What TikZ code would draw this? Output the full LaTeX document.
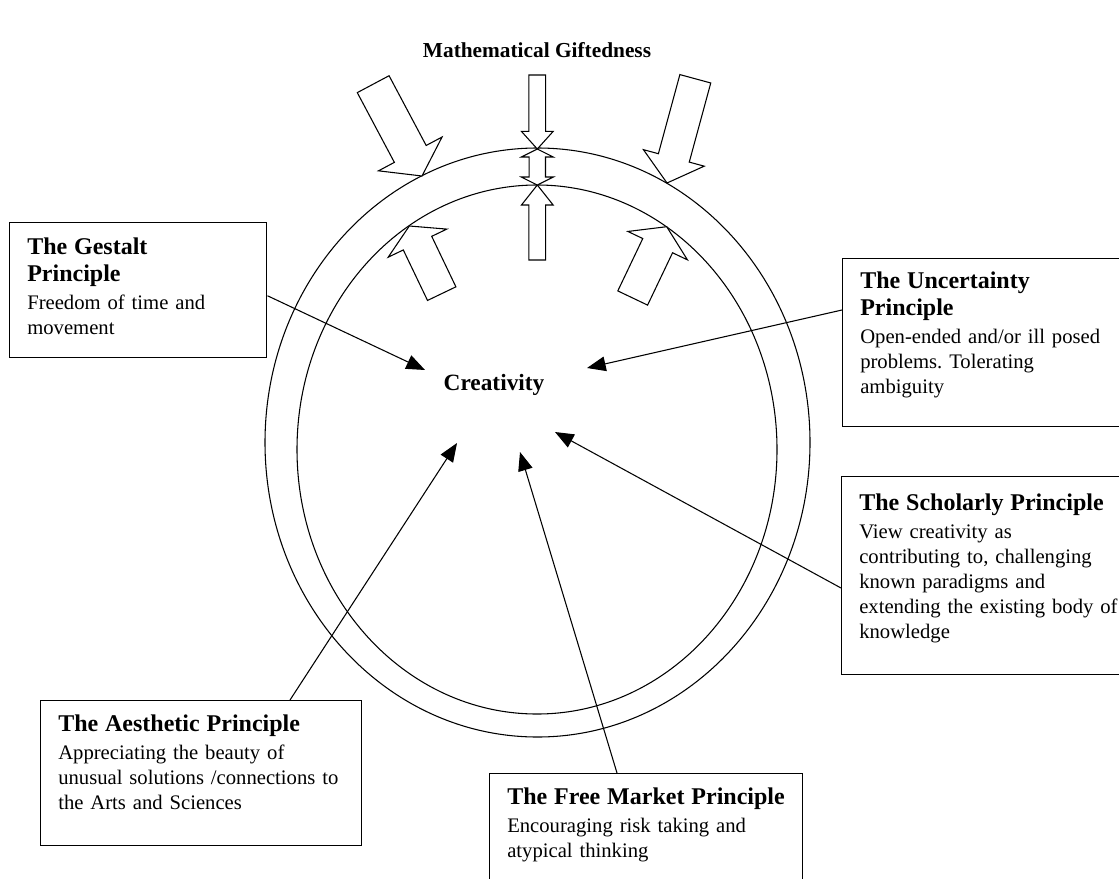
\documentclass[tikz,border=0pt]{standalone}
\usepackage{fontspec}
\setmainfont{Liberation Serif}
\usetikzlibrary{arrows.meta}
\frenchspacing

\newdimen\px \px=0.75pt
\newcommand\phead[1]{{\fontsize{18}{20}\selectfont\bfseries #1\par}\vskip2pt}

\tikzset{
  pbox/.style={draw, line width=1.1pt, anchor=north west, inner sep=0pt},
  ptext/.style={anchor=north west, inner sep=0pt, align=left, text width=310\px,
    font=\fontsize{15.5}{18.75}\selectfont},
  barr/.style={draw, fill=white, line width=0.8pt, line join=miter},
  link/.style={line width=0.8pt, -{Triangle[length=14pt,width=11pt]}}
}

\begin{document}
\begin{tikzpicture}[x=0.75pt, y=-0.75pt]
\useasboundingbox (0,0) rectangle (1119,878);

% rings
\draw[line width=0.8pt] (537.5,442.5) ellipse [x radius=272.5\px, y radius=294.5\px];
\draw[line width=0.8pt] (537,449.5) ellipse [x radius=240\px, y radius=264.5\px];

% block arrows: tip x/tip y/angle/length/shaft/head width/head length
\foreach \tx/\ty/\ang/\len/\sw/\hw/\hl in {
    422/176/-62/104/36/72/25, 667/183/-105.2/108/32/63/26,
    537.3/149/-90/74/16.7/31.7/17.6, 537.3/185/90/75/16.7/31.7/20,
    409.3/226/115.6/75/31.5/65/19, 666.7/226.7/64.5/79/33/66/21}
  \draw[barr, shift={(\tx,\ty)}, rotate=\ang] (0,0) -- (-\hl,\hw/2) -- (-\hl,\sw/2)
    -- (-\len,\sw/2) -- (-\len,-\sw/2) -- (-\hl,-\sw/2) -- (-\hl,-\hw/2) -- cycle;
% the short double arrow between the rings
\draw[barr] (537.3,149) -- (553.3,157) -- (545.5,157) -- (545.5,177) -- (553.3,177)
  -- (537.3,185) -- (521.3,177) -- (529.1,177) -- (529.1,157) -- (521.3,157) -- cycle;

\node[font=\fontsize{16}{19}\selectfont\bfseries] (title) at (537,50) {Mathematical Giftedness};
\node[font=\fontsize{17.5}{20}\selectfont\bfseries] (creat) at (494,385) {Creativity};

\coordinate (tipG) at (425,370);
\coordinate (tipU) at (587,368);
\coordinate (tipS) at (555,432);
\coordinate (tipA) at (457,443);
\coordinate (tipF) at (520,452);

% principle boxes
\node[pbox, minimum width=257\px, minimum height=135\px] (gestalt) at (9,222) {};
\node[ptext] (gestalt-t) at ([shift={(18,16)}]gestalt.north west)
  {\phead{The Gestalt\\Principle}Freedom of time and\\movement};

\node[pbox, minimum width=290\px, minimum height=168\px] (uncert) at (842,258) {};
\node[ptext] (uncert-t) at ([shift={(18,14)}]uncert.north west)
  {\phead{The Uncertainty\\Principle}Open-ended and/or ill posed\\problems. Tolerating\\ambiguity};

\node[pbox, minimum width=290\px, minimum height=198\px] (schol) at (841,476) {};
\node[ptext] (schol-t) at ([shift={(18,18)}]schol.north west)
  {\phead{The Scholarly Principle}View creativity as\\contributing to, challenging\\known paradigms and\\extending the existing body of\\knowledge};

\node[pbox, minimum width=321\px, minimum height=145\px] (aest) at (40,700) {};
\node[ptext] (aest-t) at ([shift={(18,15)}]aest.north west)
  {\phead{The Aesthetic Principle}Appreciating the beauty of\\unusual solutions /connections to\\the Arts and Sciences};

\node[pbox, minimum width=313\px, minimum height=130\px] (market) at (489,773) {};
\node[ptext] (market-t) at ([shift={(18,15)}]market.north west)
  {\phead{The Free Market Principle}Encouraging risk taking and\\atypical thinking};

% connectors
\draw[link] ([shift={(0,5.5)}]gestalt.east) -- (tipG);
\draw[link] ([shift={(0,52)}]uncert.north west) -- (tipU);
\draw[link] ([shift={(0,112)}]schol.north west) -- (tipS);
\draw[link] ([shift={(250,0)}]aest.north west) -- (tipA);
\draw[link] ([shift={(128,0)}]market.north west) -- (tipF);
\end{tikzpicture}
\end{document}
